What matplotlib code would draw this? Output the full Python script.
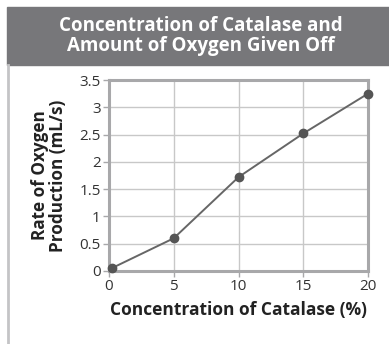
import matplotlib
matplotlib.use("Agg")
import matplotlib.pyplot as plt
from matplotlib.patches import Rectangle
from matplotlib.lines import Line2D

plt.rcParams['font.family'] = ['Open Sans', 'DejaVu Sans']

# catalase concentration (%) vs oxygen rate (mL/s)
concentration = [0.2, 5, 10, 15, 20]
oxygen_rate = [0.05, 0.6, 1.72, 2.52, 3.25]
xticks = [0, 5, 10, 15, 20]
yticks = [0, 0.5, 1, 1.5, 2, 2.5, 3, 3.5]
ytick_labels = ['0', '0.5', '1', '1.5', '2', '2.5', '3', '3.5']

fig = plt.figure(figsize=(3.89, 3.44), dpi=100)
W, H = 389, 344

# title banner
fig.patches.append(Rectangle((7 / W, 1 - 65 / H), 1 - 7 / W, 58 / H,
                             transform=fig.transFigure, color='#77777a', zorder=0))
fig.text(0.515, 1 - 36 / H, 'Concentration of Catalase and\nAmount of Oxygen Given Off',
         ha='center', va='center', color='white', fontsize=13.5, fontweight='bold',
         linespacing=1.0)
# left panel border
fig.lines.append(Line2D([8 / W, 8 / W], [0, 1 - 65 / H], transform=fig.transFigure,
                        color='#c4c4c6', lw=2))

ax = fig.add_axes([109 / W, 1 - 271 / H, (368 - 109) / W, (271 - 80) / H])
ax.plot(concentration, oxygen_rate, color='#666666', lw=1.4, marker='o',
        markersize=6, markerfacecolor='#555555', markeredgecolor='#555555',
        clip_on=False, zorder=5)

ax.set_xlim(0, 20)
ax.set_ylim(0, 3.5)
ax.set_xticks(xticks)
ax.set_yticks(yticks)
ax.set_yticklabels(ytick_labels)
ax.grid(True, color='#c8c8c8', lw=1)
ax.set_axisbelow(True)
for s in ax.spines.values():
    s.set_color('#a8a8aa')
    s.set_linewidth(2.2)
ax.tick_params(colors='#a8a8aa', labelcolor='#333333', labelsize=11, length=4, width=1,
               pad=2)

ax.set_xlabel('Concentration of Catalase (%)', fontsize=12.5, fontweight='bold',
              color='#222222', labelpad=5)
ax.set_ylabel('Rate of Oxygen\nProduction (mL/s)', fontsize=12.3, fontweight='bold',
              color='#222222', labelpad=9, linespacing=1.0)

fig.savefig('out.png', dpi=100)
